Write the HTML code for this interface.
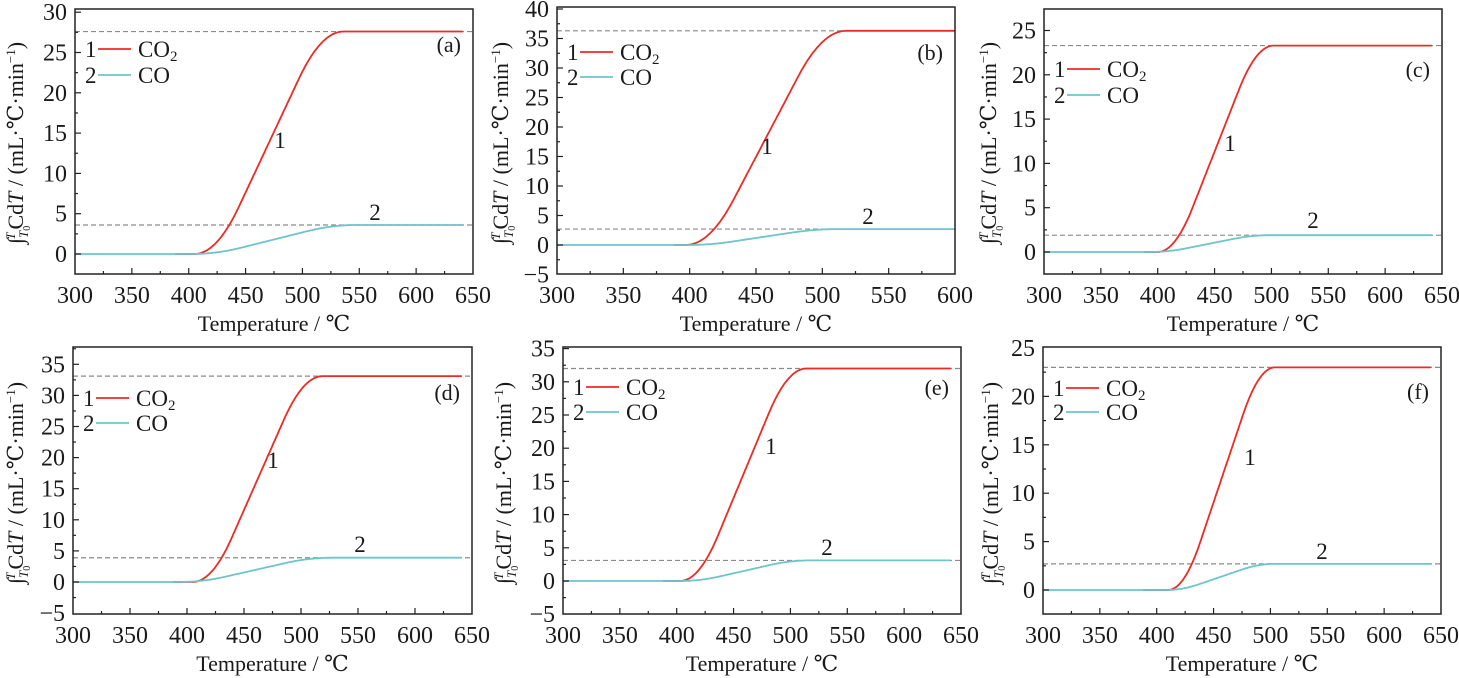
<!DOCTYPE html>
<html><head><meta charset="utf-8"><style>
html,body{margin:0;padding:0;background:#fff;}
svg{display:block;}
svg text{font-family:"Liberation Serif","Times New Roman","DejaVu Serif",serif !important;}
</style></head><body>
<svg id="s" width="1459" height="678" viewBox="0 0 1459 678" xmlns="http://www.w3.org/2000/svg" fill="#1a1a1a"></svg>
<script>
const P=[
 {L:75,R:473,T:9,B:274,y0:254,pu:8.06,xmax:650,ymin:-2.5,ymaxTick:30,ytmin:0,lab:'(a)',labY:45,
  c2:[405,536,27.6],c1:[402,548,3.6],leg:[49,75],n1:[280,140],n2:[375,212],yl:[15,143],end:641},
 {L:557,R:955,T:7,B:274,y0:245,pu:5.9,xmax:600,ymin:-5,ymaxTick:40,ytmin:-5,lab:'(b)',labY:53,
  c2:[397,518,36.3],c1:[398,512,2.7],leg:[52,77],n1:[767,146],n2:[868,216],yl:[500,143],end:600},
 {L:1044,R:1442,T:9,B:274,y0:252,pu:8.86,xmax:650,ymin:-2.5,ymaxTick:25,ytmin:0,lab:'(c)',labY:70,
  c2:[400,502,23.3],c1:[393,499,1.9],leg:[69,95],n1:[1230,143],n2:[1313,220],yl:[988,143],end:641},
 {L:73,R:472,T:347,B:614,y0:582,pu:6.22,xmax:650,ymin:-5,ymaxTick:35,ytmin:-5,lab:'(d)',labY:393,
  c2:[405,519,33.1],c1:[393,527,3.9],leg:[398,423],n1:[273,460],n2:[360,544],yl:[15,483],end:641},
 {L:563,R:961,T:347,B:614,y0:581,pu:6.64,xmax:650,ymin:-5,ymaxTick:35,ytmin:-5,lab:'(e)',labY:388,
  c2:[403,514,32.0],c1:[403,517,3.1],leg:[387,412],n1:[771,446],n2:[827,547],yl:[503,483],end:641},
 {L:1043,R:1441,T:347,B:614,y0:590,pu:9.68,xmax:650,ymin:-2.5,ymaxTick:25,ytmin:0,lab:'(f)',labY:392,
  c2:[410,504,23.0],c1:[408,504,2.7],leg:[388,412],n1:[1250,457],n2:[1322,551],yl:[990,483],end:641}
];
function f(t){
  const a=0.3,m=1/(1-a);
  if(t<=0)return 0; if(t>=1)return 1;
  if(t<a)return m*t*t/(2*a);
  if(t>1-a)return 1-m*(1-t)*(1-t)/(2*a);
  return m*(t-a/2);
}
let h='';
for(const p of P){
  const X=v=>p.L+(v-300)/(p.xmax-300)*(p.R-p.L);
  const Y=v=>p.y0-v*p.pu;
  for(const c of [p.c2,p.c1]) h+=`<line x1="${p.L}" x2="${p.R}" y1="${Y(c[2])}" y2="${Y(c[2])}" stroke="#8a8a8a" stroke-width="1.2" stroke-dasharray="5,3"/>`;
  const curve=(c,col,st)=>{let d='';for(let x=st;x<=p.end;x+=1){const v=c[2]*f((x-c[0])/(c[1]-c[0]));d+=(d?'L':'M')+X(x).toFixed(1)+','+Y(v).toFixed(1);}
    return `<path d="${d}" fill="none" stroke="${col}" stroke-width="1.8"/>`;};
  h+=curve(p.c2,'#ee2a24',388);
  h+=curve(p.c1,'#6cc5c9',300);
  h+=`<rect x="${p.L}" y="${p.T}" width="${p.R-p.L}" height="${p.B-p.T}" fill="none" stroke="#222" stroke-width="1.5"/>`;
  for(let v=300;v<=p.xmax;v+=25){const x=X(v),maj=v%50==0;
    if(v>300&&v<p.xmax)h+=`<line x1="${x}" x2="${x}" y1="${p.B}" y2="${p.B-(maj?6:3)}" stroke="#222" stroke-width="1.2"/>`;
    if(maj)h+=`<text x="${x}" y="${p.B+29}" font-size="24" text-anchor="middle">${v}</text>`;}
  for(let v=p.ymin;Y(v)>=p.T-0.5;v+=2.5){const y=Y(v),maj=Math.abs(v%5)<0.01;
    if(y<p.B-1&&y>p.T+1)h+=`<line x1="${p.L}" x2="${p.L+(maj?6:3)}" y1="${y}" y2="${y}" stroke="#222" stroke-width="1.2"/>`;
    if(maj&&v>=p.ytmin&&v<=p.ymaxTick)h+=`<text x="${p.L-8}" y="${y+8}" font-size="24" text-anchor="end">${v<0?'−'+(-v):v}</text>`;}
  h+=`<text x="${(p.L+p.R)/2}" y="${p.B+57}" font-size="22" text-anchor="middle">Temperature / ℃</text>`;
  h+=`<text transform="translate(${p.yl[0]+8},${p.yl[1]}) rotate(-90)" font-size="22" text-anchor="middle">∫<tspan font-size="13" font-style="italic" dy="5">T</tspan><tspan font-size="10" dy="2">0</tspan><tspan font-size="13" font-style="italic" dx="-14" dy="-15">T</tspan><tspan dy="8" dx="3">C</tspan>d<tspan font-style="italic">T</tspan> / (mL·℃·min<tspan font-size="13" dy="-8">−1</tspan><tspan dy="8">)</tspan></text>`;
  const lx=p.L;
  h+=`<text x="${lx+10}" y="${p.leg[0]+8}" font-size="23">1</text><line x1="${lx+23}" x2="${lx+56}" y1="${p.leg[0]}" y2="${p.leg[0]}" stroke="#ee2a24" stroke-width="1.8"/><text x="${lx+63}" y="${p.leg[0]+8}" font-size="23">CO<tspan font-size="15" dy="4">2</tspan></text>`;
  h+=`<text x="${lx+10}" y="${p.leg[1]+8}" font-size="23">2</text><line x1="${lx+23}" x2="${lx+56}" y1="${p.leg[1]}" y2="${p.leg[1]}" stroke="#6cc5c9" stroke-width="1.8"/><text x="${lx+63}" y="${p.leg[1]+8}" font-size="23">CO</text>`;
  h+=`<text x="${p.R-12}" y="${p.labY+7}" font-size="22" text-anchor="end">${p.lab}</text>`;
  h+=`<text x="${p.n1[0]}" y="${p.n1[1]+8}" font-size="23" text-anchor="middle">1</text><text x="${p.n2[0]}" y="${p.n2[1]+8}" font-size="23" text-anchor="middle">2</text>`;
}
document.getElementById('s').innerHTML=h;
</script>
</body></html>
